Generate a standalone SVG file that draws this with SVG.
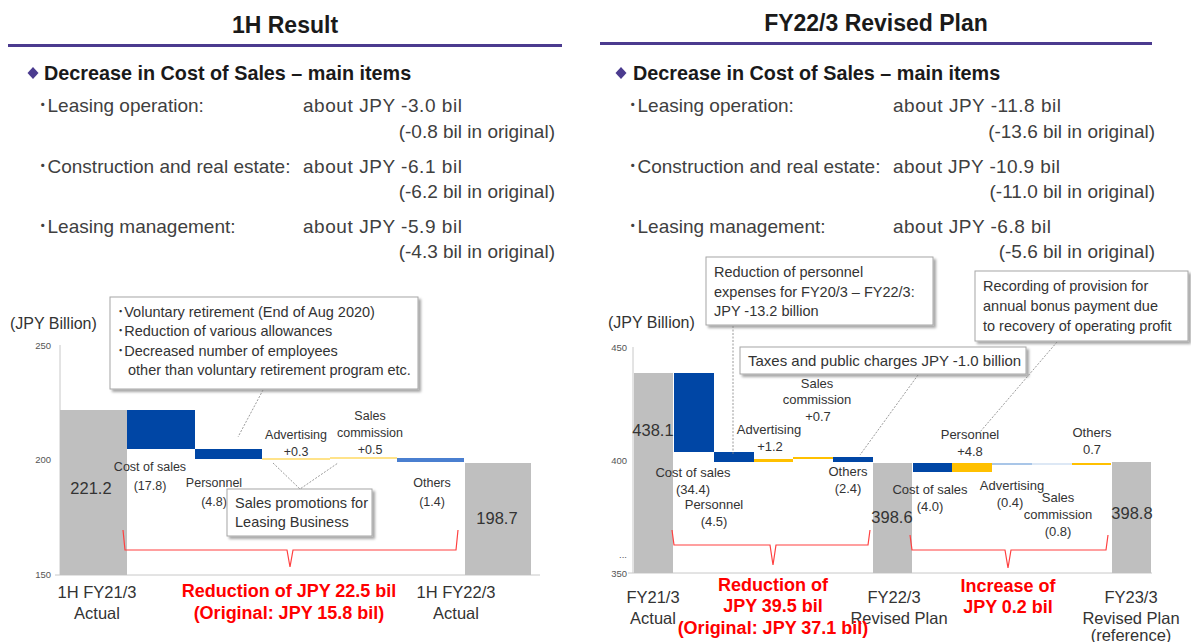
<svg xmlns="http://www.w3.org/2000/svg" width="1191" height="642" viewBox="0 0 1191 642">
<defs>
<style>
text{font-family:"Liberation Sans",Arial,"Noto Sans CJK JP",sans-serif;fill:#404040}
.title{font-size:23px;font-weight:bold;fill:#1a1a1a;text-anchor:middle}
.head{font-size:19.8px;font-weight:bold;fill:#1a1a1a}
.row{font-size:19px}
.end{text-anchor:end}
.lab{font-size:12.5px;text-anchor:middle;fill:#333}
.rlab{font-size:13px;text-anchor:middle;fill:#333}
.axl{font-size:16px;fill:#333}
.tick{font-size:9.5px;fill:#555;text-anchor:end}
.val{font-size:16.5px;text-anchor:middle;fill:#333}
.cat{font-size:16.5px;text-anchor:middle;fill:#333}
.red{font-size:18px;font-weight:bold;fill:#ff0000;text-anchor:middle}
.box{fill:#fff;stroke:#a6a6a6;stroke-width:1;filter:url(#sh)}
.bt{font-size:14.5px;fill:#333}
.bt2{font-size:14.5px;fill:#333}
.gray{fill:#bfbfbf}
.blue{fill:#0046a5}
.mblue{fill:#4a7fd0}
.lblue{fill:#a9c6e8}
.vlblue{fill:#dde8f5}
.yel{fill:#ffc000}
.lyel{fill:#ffe38a}
.axis{stroke:#c8c8c8;stroke-width:1;fill:none}
.ptr{stroke:#808080;stroke-width:0.8;fill:none;stroke-dasharray:2 1.5}
.brace{stroke:#ff4040;stroke-width:1.2;fill:none}
</style>
<filter id="sh" x="-10%" y="-10%" width="130%" height="140%">
<feDropShadow dx="2.5" dy="2.5" stdDeviation="1.2" flood-color="#000" flood-opacity="0.35"/>
</filter>
</defs>
<rect width="1191" height="642" fill="#fff"/>

<!-- LEFT PANEL -->
<g id="left-header">
<text class="title" x="285" y="33">1H Result</text>
<rect x="8" y="44" width="554" height="3" fill="#4b3b8f"/>
<path d="M33 67 L38.5 73 L33 79 L27.5 73 Z" fill="#4b3b8f"/>
<text class="head" x="44" y="80">Decrease in Cost of Sales – main items</text>
</g>
<g id="left-items">
<text class="row" x="38" y="112">･Leasing operation:</text>
<text class="row" x="303" y="112" textLength="159">about JPY -3.0 bil</text>
<text class="row end" x="555" y="138">(-0.8 bil in original)</text>
<text class="row" x="38" y="173">･Construction and real estate:</text>
<text class="row" x="303" y="173" textLength="159">about JPY -6.1 bil</text>
<text class="row end" x="555" y="198">(-6.2 bil in original)</text>
<text class="row" x="38" y="233">･Leasing management:</text>
<text class="row" x="303" y="233" textLength="159">about JPY -5.9 bil</text>
<text class="row end" x="555" y="258">(-4.3 bil in original)</text>
</g>

<g id="left-axis">
<text class="axl" x="10" y="329">(JPY Billion)</text>
<text class="tick" x="51" y="349">250</text>
<text class="tick" x="51" y="463">200</text>
<text class="tick" x="51" y="578">150</text>
<line class="axis" x1="60" y1="345" x2="60" y2="575"/>
<line class="axis" x1="55" y1="575" x2="540" y2="575"/>
</g>
<g id="left-bars">
<rect class="gray" x="60" y="410" width="67" height="165"/>
<rect class="blue" x="127" y="410" width="68" height="39"/>
<rect class="blue" x="195" y="449" width="67" height="10"/>
<rect class="lyel" x="262" y="458" width="68" height="2"/>
<rect class="lyel" x="330" y="457" width="67" height="2"/>
<rect class="mblue" x="397" y="458" width="67" height="4"/>
<rect class="gray" x="465" y="463" width="66" height="112"/>
</g>
<g id="left-labels">
<text class="val" x="91" y="494">221.2</text>
<text class="val" x="497" y="524">198.7</text>
<text class="lab" x="150" y="471">Cost of sales</text>
<text class="lab" x="150" y="490">(17.8)</text>
<text class="lab" x="214" y="487">Personnel</text>
<text class="lab" x="214" y="506">(4.8)</text>
<text class="lab" x="296" y="439">Advertising</text>
<text class="lab" x="296" y="456">+0.3</text>
<text class="lab" x="370" y="420">Sales</text>
<text class="lab" x="370" y="437">commission</text>
<text class="lab" x="370" y="454">+0.5</text>
<text class="lab" x="432" y="487">Others</text>
<text class="lab" x="432" y="506">(1.4)</text>
<text class="cat" x="97" y="598">1H FY21/3</text>
<text class="cat" x="97" y="619">Actual</text>
<text class="cat" x="456" y="598">1H FY22/3</text>
<text class="cat" x="456" y="619">Actual</text>
<text class="red" x="289" y="597">Reduction of JPY 22.5 bil</text>
<text class="red" x="289" y="619">(Original: JPY 15.8 bil)</text>
</g>
<g id="left-callout-personnel">
<rect class="box" x="110" y="297" width="308" height="92"/>
<text class="bt" x="117" y="317">･Voluntary retirement (End of Aug 2020)</text>
<text class="bt" x="117" y="336">･Reduction of various allowances</text>
<text class="bt" x="117" y="356">･Decreased number of employees</text>
<text class="bt" x="128" y="375">other than voluntary retirement program etc.</text>
</g>
<g id="left-callout-promo">
<rect class="box" x="227" y="489" width="145" height="47"/>
<text class="bt2" x="235" y="508">Sales promotions for</text>
<text class="bt2" x="235" y="527">Leasing Business</text>
</g>

<!-- RIGHT PANEL -->
<g id="right-header">
<text class="title" x="876" y="31">FY22/3 Revised Plan</text>
<rect x="600" y="42" width="552" height="3" fill="#4b3b8f"/>
<path d="M621 67 L626.5 73 L621 79 L615.5 73 Z" fill="#4b3b8f"/>
<text class="head" x="633" y="80">Decrease in Cost of Sales – main items</text>
</g>
<g id="right-items">
<text class="row" x="628" y="112">･Leasing operation:</text>
<text class="row" x="893" y="112" textLength="168">about JPY -11.8 bil</text>
<text class="row end" x="1155" y="138">(-13.6 bil in original)</text>
<text class="row" x="628" y="173">･Construction and real estate:</text>
<text class="row" x="893" y="173" textLength="167">about JPY -10.9 bil</text>
<text class="row end" x="1155" y="198">(-11.0 bil in original)</text>
<text class="row" x="628" y="233">･Leasing management:</text>
<text class="row" x="893" y="233" textLength="158">about JPY -6.8 bil</text>
<text class="row end" x="1155" y="258">(-5.6 bil in original)</text>
</g>

<g id="right-axis">
<text class="axl" x="608" y="328">(JPY Billion)</text>
<text class="tick" x="627" y="351">450</text>
<text class="tick" x="627" y="464">400</text>
<text class="tick" x="627" y="558">...</text>
<text class="tick" x="627" y="577">350</text>
<line class="axis" x1="633" y1="347" x2="633" y2="573"/>
<line class="axis" x1="628" y1="573" x2="1152" y2="573"/>
</g>
<g id="right-bars">
<rect class="gray" x="634" y="373" width="39" height="200"/>
<rect class="blue" x="674" y="373" width="40" height="79"/>
<rect class="blue" x="714" y="452" width="40" height="10"/>
<rect class="yel" x="754" y="459" width="39" height="3"/>
<rect class="yel" x="793" y="457" width="40" height="2"/>
<rect class="blue" x="833" y="457" width="40" height="5"/>
<rect class="gray" x="873" y="463" width="39" height="110"/>
<rect class="blue" x="913" y="463" width="39" height="9"/>
<rect class="yel" x="952" y="463" width="40" height="9"/>
<rect class="lblue" x="992" y="463" width="40" height="2"/>
<rect class="vlblue" x="1032" y="463" width="40" height="2"/>
<rect class="yel" x="1072" y="463" width="39" height="2"/>
<rect class="gray" x="1112" y="462" width="39" height="111"/>
</g>
<g id="right-labels">
<text class="val" x="653" y="436">438.1</text>
<text class="val" x="892" y="523">398.6</text>
<text class="val" x="1132" y="519">398.8</text>
<text class="rlab" x="693" y="477">Cost of sales</text>
<text class="rlab" x="693" y="494">(34.4)</text>
<text class="rlab" x="714" y="509">Personnel</text>
<text class="rlab" x="714" y="526">(4.5)</text>
<text class="rlab" x="769" y="434">Advertising</text>
<text class="rlab" x="770" y="451">+1.2</text>
<text class="rlab" x="817" y="388">Sales</text>
<text class="rlab" x="817" y="404">commission</text>
<text class="rlab" x="818" y="421">+0.7</text>
<text class="rlab" x="848" y="476">Others</text>
<text class="rlab" x="848" y="493">(2.4)</text>
<text class="rlab" x="930" y="494">Cost of sales</text>
<text class="rlab" x="930" y="511">(4.0)</text>
<text class="rlab" x="970" y="439">Personnel</text>
<text class="rlab" x="970" y="456">+4.8</text>
<text class="rlab" x="1012" y="490">Advertising</text>
<text class="rlab" x="1010" y="507">(0.4)</text>
<text class="rlab" x="1058" y="502">Sales</text>
<text class="rlab" x="1058" y="519">commission</text>
<text class="rlab" x="1058" y="536">(0.8)</text>
<text class="rlab" x="1092" y="437">Others</text>
<text class="rlab" x="1092" y="454">0.7</text>
<text class="cat" x="653" y="603">FY21/3</text>
<text class="cat" x="653" y="624">Actual</text>
<text class="cat" x="894" y="603">FY22/3</text>
<text class="cat" x="899" y="624">Revised  Plan</text>
<text class="cat" x="1131" y="603">FY23/3</text>
<text class="cat" x="1131" y="624">Revised  Plan</text>
<text class="cat" x="1131" y="641">(reference)</text>
<text class="red" x="773" y="591">Reduction of</text>
<text class="red" x="773" y="612">JPY 39.5 bil</text>
<text class="red" x="773" y="634">(Original: JPY 37.1 bil)</text>
<text class="red" x="1008" y="592">Increase of</text>
<text class="red" x="1008" y="613">JPY 0.2 bil</text>
</g>
<g id="right-callout-personnel">
<rect class="box" x="706" y="257" width="227" height="68"/>
<text class="bt2" x="714" y="277">Reduction of personnel</text>
<text class="bt2" x="714" y="297">expenses for FY20/3 – FY22/3:</text>
<text class="bt2" x="714" y="316">JPY -13.2 billion</text>
</g>
<g id="right-callout-taxes">
<rect class="box" x="740" y="347" width="286" height="27"/>
<text class="bt2" x="748" y="366" style="font-size:15px">Taxes and public charges JPY -1.0 billion</text>
</g>
<g id="right-callout-bonus">
<rect class="box" x="975" y="271" width="213" height="70"/>
<text class="bt" x="983" y="291">Recording of provision for</text>
<text class="bt" x="983" y="311">annual bonus payment due</text>
<text class="bt" x="983" y="331">to recovery  of operating profit</text>
</g>

<g id="connectors">
<line class="ptr" x1="263" y1="390" x2="238" y2="437"/>
<polyline class="ptr" points="273,463 300,489 338,463"/>
<line class="ptr" x1="733" y1="326" x2="733" y2="455"/>
<line class="ptr" x1="918" y1="375" x2="860" y2="455"/>
<line class="ptr" x1="1057" y1="342" x2="980" y2="432"/>
<path class="brace" d="M123 530 L125 550 L287 550 L290 567 L293 550 L456 550 L458 530"/>
<path class="brace" d="M672 530 L674 545 L770 545 L773 565 L776 545 L868 545 L870 530"/>
<path class="brace" d="M910 535 L912 550 L1005 550 L1008 568 L1011 550 L1106 550 L1108 535"/>
</g>
</svg>
